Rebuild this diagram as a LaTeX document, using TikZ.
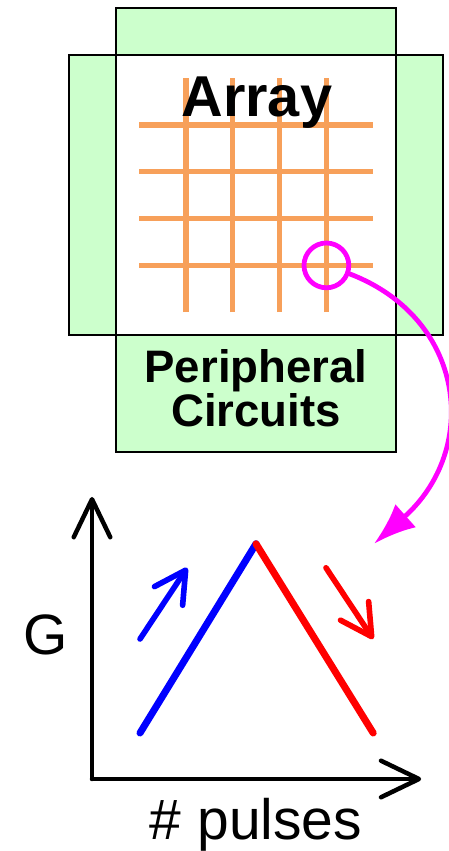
\documentclass[tikz,border=0pt]{standalone}
\usepackage{fontspec}
\setmainfont{Liberation Sans}
\usetikzlibrary{arrows.meta}
\definecolor{padgreen}{RGB}{204,255,204}
\definecolor{wireorange}{RGB}{247,160,90}
\definecolor{linkpink}{RGB}{255,0,255}

\begin{document}
\begin{tikzpicture}[line cap=round,line join=round,
    pad/.style={fill=padgreen,draw=black,line width=1.6pt,line join=miter},
    wire/.style={draw=wireorange,line width=3.8pt,line cap=butt},
    axis/.style={line width=3.2pt,-{Straight Barb[length=27pt,width=26pt,round]}},
    trend/.style={line width=4pt,-{Straight Barb[length=22pt,width=24pt,round]}}]
  \useasboundingbox (0,0) rectangle (11.20,21.275);
  % chip: array and peripheral blocks
  \draw[pad] (2.90,19.90) rectangle (9.90,21.08);
  \draw[pad] (1.72,12.90) rectangle (2.90,19.90);
  \draw[pad] (9.90,12.90) rectangle (11.08,19.90);
  \draw[pad] (2.90,9.98) rectangle (9.90,12.90);
  \draw[pad,fill=white] (2.90,12.90) rectangle (9.90,19.90);
  \draw[wire] (3.48,18.15) -- (9.33,18.15);
  \draw[wire] (3.48,16.98) -- (9.33,16.98);
  \draw[wire] (3.48,15.81) -- (9.33,15.81);
  \draw[wire] (3.48,14.64) -- (9.33,14.64);
  \draw[wire] (4.65,13.47) -- (4.65,19.32);
  \draw[wire] (5.82,13.47) -- (5.82,19.32);
  \draw[wire] (6.99,13.47) -- (6.99,19.32);
  \draw[wire] (8.16,13.47) -- (8.16,19.32);
  \node[anchor=base,font=\fontsize{41}{41}\selectfont\bfseries] (arraylabel) at (6.42,18.35) {Array};
  \node[anchor=base,font=\fontsize{32.4}{32.4}\selectfont\bfseries] (periph) at (6.40,11.72) {Peripheral};
  \node[anchor=base,font=\fontsize{32.4}{32.4}\selectfont\bfseries] (circ) at (6.40,10.60) {Circuits};
  \node[circle,draw=linkpink,line width=3.4pt,minimum size=1.12cm,inner sep=0pt] (cell) at (8.16,14.64) {};
  % conductance plot
  \coordinate (origin) at (2.30,1.80);
  \coordinate (ytop) at (2.30,8.85);
  \coordinate (xend) at (10.53,1.80);
  \coordinate (target) at (9.35,7.68);
  \draw[linkpink,line width=3.4pt,-{Latex[length=30pt,width=22pt]}] (cell.-20)
    .. controls +(2.92,-1.12) and +(2.65,2.35) .. (target);
  \draw[axis] (origin) -- (ytop);
  \draw[axis] (origin) -- (xend);
  \draw[blue,line width=5pt] (3.50,2.95) -- (6.40,7.68);
  \draw[red,line width=5pt] (6.40,7.68) -- (9.33,2.95);
  \draw[trend,blue] (3.50,5.30) -- (4.68,7.08);
  \draw[trend,red] (8.15,7.08) -- (9.33,5.30);
  \node[font=\fontsize{40.5}{40.5}\selectfont] (glabel) at (1.15,5.40) {G};
  \node[anchor=base,font=\fontsize{40.5}{40.5}\selectfont] (xlabel) at (6.40,0.28) {\# pulses};
\end{tikzpicture}
\end{document}
